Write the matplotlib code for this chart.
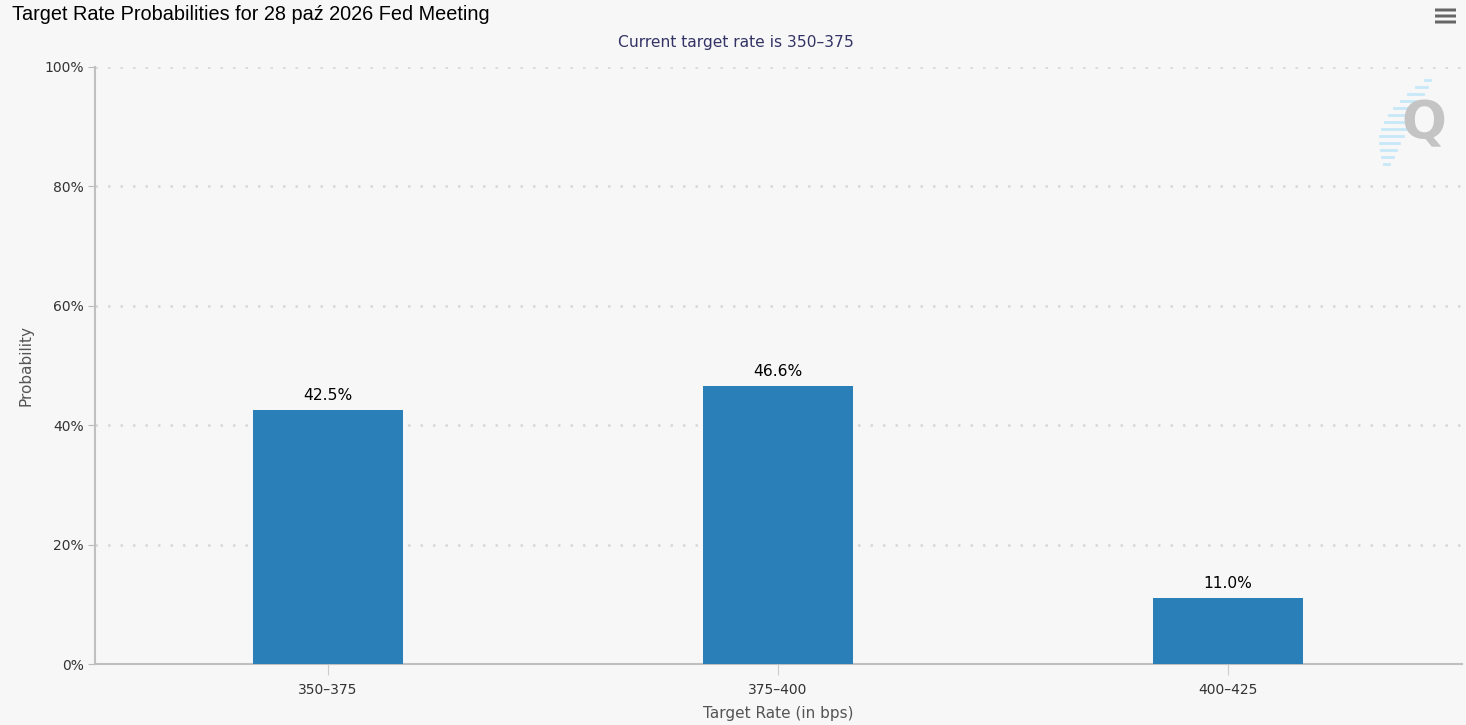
import matplotlib.pyplot as plt
from matplotlib.patches import FancyBboxPatch
import numpy as np

# chart data
rates = ["350-375", "375-400", "400-425"]
probs = [42.5, 46.6, 11.0]
yticks = [0, 20, 40, 60, 80, 100]

bg = "#f7f7f7"
bar_color = "#2a7fb8"

W, H = 1466, 725
fig = plt.figure(figsize=(W / 100, H / 100), dpi=100, facecolor=bg)

# axes placed to match the reference pixel box
left, right, top, bottom = 95, 1462, 67, 664
ax = fig.add_axes([left / W, 1 - bottom / H, (right - left) / W, (bottom - top) / H])
ax.set_facecolor(bg)

x = np.arange(len(rates))
bars = ax.bar(x, probs, width=1 / 3, color=bar_color, zorder=3)
for b, p in zip(bars, probs):
    ax.annotate("%.1f%%" % p, (b.get_x() + b.get_width() / 2, p),
                xytext=(0, 5), textcoords="offset points", ha="center", va="bottom",
                fontsize=11.2, color="#000000", family="DejaVu Sans")

ax.set_xlim(-0.518, 2.52)
ax.set_ylim(0, 100)
ax.set_xticks(x)
ax.set_xticklabels([r.replace("-", "\u2013") for r in rates])
ax.set_yticks(yticks)
ax.set_yticklabels(["%d%%" % t for t in yticks])
ax.tick_params(axis="both", labelsize=10, colors="#333333")
ax.tick_params(axis="x", length=8, color="#cccccc", pad=6)
ax.tick_params(axis="y", length=5, color="#bbbbbb", pad=3)
ax.grid(axis="y", linestyle=(0, (1, 4)), color="#d8d8d8", linewidth=1.8, zorder=0)

for s in ["top", "right"]:
    ax.spines[s].set_visible(False)
ax.spines["left"].set_color("#c0c0c0")
ax.spines["left"].set_linewidth(1.5)
ax.spines["bottom"].set_color("#c0c0c0")
ax.spines["bottom"].set_linewidth(1.5)

ax.set_xlabel("Target Rate (in bps)", fontsize=11, color="#555555", labelpad=6)
ax.set_ylabel("Probability", fontsize=11, color="#555555", labelpad=8)

fig.text(12 / W, 1 - 14 / H, "Target Rate Probabilities for 28 paź 2026 Fed Meeting",
         fontsize=14.3, family="Liberation Sans", color="#000000", va="center", ha="left")
fig.text(736 / W, 1 - 42 / H, "Current target rate is 350\u2013375",
         fontsize=11.2, color="#333366", va="center", ha="center")

# menu icon
for yy in [10, 16, 22]:
    fig.add_artist(FancyBboxPatch((1435 / W, 1 - (yy + 1.5) / H), 21 / W, 3 / H,
                                  boxstyle="round,pad=0", transform=fig.transFigure,
                                  color="#666666", linewidth=0))

# watermark
for i, yy in enumerate(range(80, 166, 7)):
    xs = 1430 - i * 3.4
    ln = 5 + 20 * np.sin(np.pi * i / 12)
    fig.add_artist(plt.Line2D([(xs - ln) / W, xs / W], [1 - yy / H, 1 - yy / H],
                              transform=fig.transFigure, color="#c6e8f8", linewidth=2))
fig.text(1424 / W, 1 - 124 / H, "Q", fontsize=38, fontweight="bold", color="#c4c4c4",
         ha="center", va="center", family="DejaVu Sans")

fig.savefig("out.png", dpi=100, facecolor=bg)
